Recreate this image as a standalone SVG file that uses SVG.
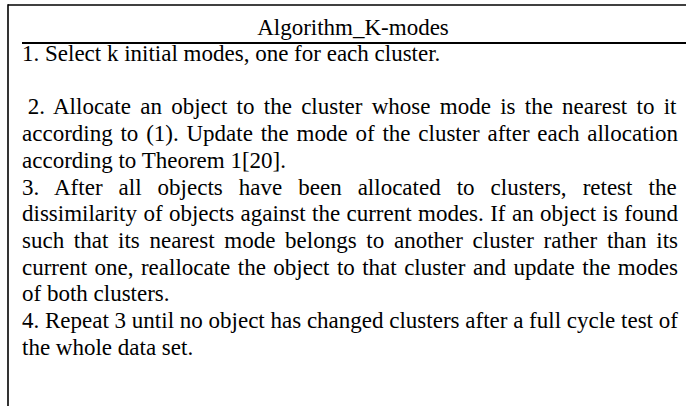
<svg xmlns="http://www.w3.org/2000/svg" width="686" height="406" viewBox="0 0 686 406">
<style>
.t{font-family:"Liberation Serif","Times New Roman",serif;font-size:23px;fill:#000}
.ln{stroke:#000;fill:none}
</style>
<rect x="0" y="0" width="686" height="406" fill="#fff"/>
<g id="frame">
<line class="ln" x1="8" y1="5" x2="686" y2="5" stroke-width="1.6"/>
<line class="ln" x1="8" y1="4.2" x2="8" y2="406" stroke-width="1.6"/>
<line class="ln" x1="22" y1="43" x2="686" y2="43" stroke-width="2.2"/>
</g>
<g id="title">
<text class="t" x="353" y="35" text-anchor="middle">Algorithm_K-modes</text>
</g>
<g id="body">
<text class="t" x="22" y="61">1. Select k initial modes, one for each cluster.</text>
<text class="t" x="27.75" y="114.4" word-spacing="3.52">2. Allocate an object to the cluster whose mode is the nearest to it</text>
<text class="t" x="22" y="141.1" word-spacing="2.04">according to (1). Update the mode of the cluster after each allocation</text>
<text class="t" x="22" y="167.8">according to Theorem 1[20].</text>
<text class="t" x="22" y="194.5" word-spacing="10.28">3. After all objects have been allocated to clusters, retest the</text>
<text class="t" x="22" y="221.2" word-spacing="0.64">dissimilarity of objects against the current modes. If an object is found</text>
<text class="t" x="22" y="247.9" word-spacing="3.95">such that its nearest mode belongs to another cluster rather than its</text>
<text class="t" x="22" y="274.6" word-spacing="1.68">current one, reallocate the object to that cluster and update the modes</text>
<text class="t" x="22" y="301.3">of both clusters.</text>
<text class="t" x="22" y="328">4. Repeat 3 until no object has changed clusters after a full cycle test of</text>
<text class="t" x="22" y="354.7">the whole data set.</text>
</g>
</svg>
